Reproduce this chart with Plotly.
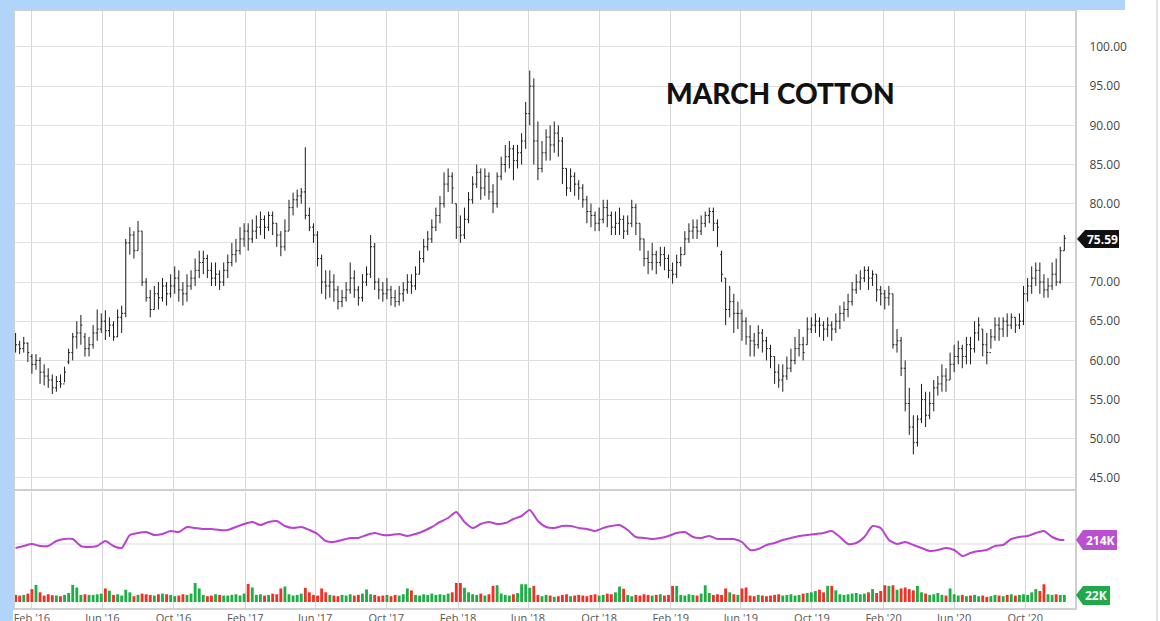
import pandas as pd
import plotly.graph_objects as go

# Weekly bars for March cotton, first week of Jan 2016 to early Dec 2020
opens_2016 = [62.8, 62.0, 61.5, 62.2, 60.5, 59.5, 60.0, 58.5, 58.0, 57.5, 56.5, 57.3, 57.0,
              59.8, 61.0, 63.0, 63.5, 63.0, 61.5, 62.0, 63.5, 64.0, 65.0, 63.8, 64.5, 63.0,
              65.5, 66.0, 75.0, 76.0, 74.0, 76.5, 70.0, 68.0, 66.5, 68.5, 68.0, 69.5, 68.5,
              69.5, 70.5, 69.0, 68.5, 69.5, 70.5, 71.5, 72.5, 73.0, 71.5, 70.5, 71.0, 70.0]
highs_2016 = [63.5, 62.5, 63.0, 62.3, 60.8, 60.8, 60.4, 59.5, 59.0, 58.2, 58.0, 58.2, 59.2,
              61.5, 63.5, 65.0, 65.8, 63.5, 63.0, 64.5, 66.5, 66.0, 66.4, 65.5, 65.0, 66.5,
              67.0, 75.5, 77.0, 76.5, 77.8, 76.5, 70.5, 69.0, 69.5, 70.0, 70.5, 70.0, 71.0,
              72.0, 71.5, 70.0, 71.0, 71.5, 73.0, 74.0, 74.0, 73.5, 72.5, 72.5, 71.5, 72.5]
lows_2016 = [61.0, 60.8, 61.0, 59.8, 58.3, 58.8, 57.0, 56.8, 56.5, 55.7, 56.0, 56.5, 57.2,
             59.5, 60.0, 61.5, 62.0, 60.5, 60.5, 61.5, 62.5, 63.5, 62.6, 63.0, 62.5, 63.0,
             63.5, 65.5, 73.5, 73.0, 74.0, 69.5, 67.5, 65.5, 66.5, 66.5, 67.5, 67.0, 68.0,
             68.5, 67.5, 67.0, 67.5, 69.0, 69.5, 70.5, 71.0, 70.5, 69.5, 69.5, 69.0, 69.5]
closes_2016 = [62.0, 61.5, 62.2, 61.0, 59.5, 60.0, 58.5, 58.0, 57.5, 56.5, 57.3, 57.0, 58.5,
               61.0, 63.0, 63.5, 64.5, 61.5, 62.0, 63.5, 64.0, 65.0, 63.8, 64.5, 63.0, 65.5,
               66.0, 75.0, 76.0, 74.0, 76.5, 70.0, 68.0, 66.5, 68.5, 68.0, 69.5, 68.5, 69.5,
               70.5, 69.0, 68.5, 69.5, 70.5, 71.5, 72.5, 73.0, 71.5, 70.5, 71.0, 70.0, 71.5]

opens_2017 = [71.5, 72.5, 73.5, 74.0, 75.5, 76.5, 75.5, 76.5, 77.0, 78.0, 77.0, 78.5,
              77.5, 76.0, 74.5, 76.5, 79.5, 80.5, 81.0, 81.5, 78.5, 77.0, 76.0, 73.0, 70.0,
              69.5, 70.0, 69.0, 67.5, 68.0, 69.0, 70.5, 69.0, 68.0, 70.0, 71.0, 74.5, 70.0,
              69.0, 68.5, 69.0, 68.0, 67.5, 68.5, 69.0, 70.0, 69.5, 71.0, 73.0, 74.5, 75.5, 77.0]
highs_2017 = [73.5, 75.0, 75.5, 77.0, 77.5, 77.5, 78.0, 78.5, 79.0, 78.5, 79.0, 79.0,
              77.5, 76.5, 78.0, 80.5, 81.4, 81.8, 82.0, 87.2, 79.5, 77.5, 76.5, 73.5, 71.5,
              71.5, 71.0, 69.5, 69.0, 70.0, 72.5, 71.5, 69.5, 71.0, 72.0, 76.0, 75.0, 70.5,
              70.0, 70.5, 69.5, 69.0, 69.5, 70.0, 71.0, 71.0, 72.0, 74.0, 75.5, 76.5, 78.0, 79.5]
lows_2017 = [70.5, 72.0, 72.5, 73.5, 74.5, 74.0, 75.0, 75.5, 76.0, 75.5, 76.5, 76.0,
             74.5, 73.3, 74.0, 76.5, 78.5, 79.5, 80.0, 78.0, 76.5, 75.0, 72.0, 68.5, 67.8,
             68.0, 67.5, 66.5, 66.8, 67.5, 68.5, 68.0, 67.0, 67.5, 69.5, 70.5, 69.0, 67.8,
             67.5, 67.8, 67.0, 66.8, 67.0, 67.5, 68.5, 68.5, 69.0, 71.0, 72.5, 74.0, 75.0, 76.5]
closes_2017 = [72.5, 73.5, 74.0, 75.5, 76.5, 75.5, 76.5, 77.0, 78.0, 77.0, 78.5, 77.5,
               76.0, 74.5, 76.5, 79.5, 80.5, 81.0, 81.5, 78.5, 77.0, 76.0, 73.0, 70.0, 69.5,
               70.0, 69.0, 67.5, 68.0, 69.0, 70.5, 69.0, 68.0, 70.0, 71.0, 74.5, 70.0, 69.0,
               68.5, 69.0, 68.0, 67.5, 68.5, 69.0, 70.0, 69.5, 71.0, 73.0, 74.5, 75.5, 77.0, 78.5]

opens_2018 = [78.5, 80.0, 82.5, 83.5, 80.0, 77.0, 76.0, 78.0, 80.5, 82.5, 84.0, 82.0,
              83.5, 81.5, 80.0, 83.5, 85.0, 86.0, 87.0, 85.5, 86.5, 88.0, 91.5, 95.0, 88.0,
              84.5, 86.5, 88.5, 87.5, 89.0, 88.0, 84.5, 82.0, 83.5, 82.5, 82.0, 80.5, 79.0,
              78.5, 77.5, 78.0, 79.5, 78.5, 77.0, 77.5, 78.0, 76.5, 77.5, 79.5, 77.5, 75.5, 73.0]
highs_2018 = [81.0, 84.0, 84.5, 84.0, 80.0, 78.5, 79.5, 81.5, 83.5, 85.0, 84.5, 84.5,
              84.0, 82.5, 84.0, 86.0, 87.5, 88.0, 87.5, 87.5, 89.0, 93.0, 97.0, 96.0, 90.5,
              88.0, 89.5, 90.0, 90.5, 90.0, 88.5, 84.5, 84.5, 84.0, 83.0, 82.5, 81.0, 80.0,
              79.0, 79.5, 80.5, 80.5, 79.0, 79.0, 79.5, 78.5, 78.5, 80.5, 80.0, 77.5, 75.5, 74.0]
lows_2018 = [77.5, 79.5, 81.5, 80.0, 75.5, 75.0, 75.5, 77.5, 80.0, 82.0, 80.5, 81.0,
             80.5, 78.8, 79.5, 83.0, 84.0, 84.5, 83.0, 84.5, 85.0, 87.0, 90.0, 85.0, 83.0,
             84.0, 85.5, 85.5, 86.5, 86.0, 82.5, 81.0, 81.5, 81.0, 80.5, 79.5, 77.5, 77.0,
             76.5, 76.5, 77.5, 77.0, 76.0, 76.0, 76.0, 75.5, 76.0, 77.0, 76.0, 74.0, 72.0, 71.0]
closes_2018 = [80.0, 82.5, 83.5, 82.0, 77.0, 76.0, 78.0, 80.5, 82.5, 84.0, 82.0, 83.5,
               81.5, 80.0, 83.5, 85.0, 86.0, 87.0, 85.5, 86.5, 88.0, 91.5, 95.0, 88.0, 84.5,
               86.5, 88.5, 87.5, 89.0, 88.0, 84.5, 82.0, 83.5, 82.5, 82.0, 80.5, 79.0, 78.5,
               77.5, 78.0, 79.5, 78.5, 77.0, 77.5, 78.0, 76.5, 77.5, 79.5, 77.5, 75.5, 73.0, 72.5]

opens_2019 = [72.5, 73.5, 72.5, 73.5, 73.0, 71.5, 71.0, 72.5, 73.5, 75.5, 76.5, 77.0,
              76.5, 77.5, 78.5, 79.0, 77.5, 73.5, 70.5, 66.5, 67.5, 66.0, 66.0, 65.0, 63.0,
              62.5, 62.0, 63.5, 62.5, 61.5, 60.5, 58.5, 57.5, 58.0, 59.0, 60.0, 61.5, 62.0,
              62.0, 64.0, 64.5, 65.0, 64.5, 64.0, 64.5, 64.0, 65.0, 66.0, 66.5, 67.5, 69.0, 70.0]
highs_2019 = [75.0, 74.0, 74.5, 74.5, 73.5, 72.5, 73.5, 74.5, 76.5, 77.5, 78.0, 78.0,
              78.5, 79.0, 79.5, 79.5, 78.0, 74.0, 70.5, 69.5, 68.5, 67.5, 66.5, 65.5, 64.5,
              63.5, 64.5, 64.0, 63.0, 62.0, 60.5, 59.5, 59.5, 60.5, 61.5, 63.0, 64.0, 63.0,
              65.5, 65.5, 66.0, 65.5, 65.0, 65.5, 65.0, 66.0, 67.0, 67.5, 68.5, 70.0, 71.0, 71.5]
lows_2019 = [71.5, 71.0, 72.0, 71.5, 70.5, 69.8, 70.5, 72.0, 73.5, 75.0, 75.5, 75.5,
             76.0, 77.0, 77.5, 76.5, 74.5, 70.0, 64.5, 65.5, 63.5, 64.0, 62.5, 62.0, 60.5,
             60.5, 61.5, 61.0, 60.0, 59.0, 57.0, 56.5, 56.0, 57.5, 58.5, 59.5, 60.5, 60.0,
             62.0, 63.5, 63.5, 63.0, 62.5, 63.0, 62.5, 63.5, 64.0, 65.0, 65.5, 67.0, 68.5, 69.0]
closes_2019 = [73.5, 72.5, 73.5, 73.0, 71.5, 71.0, 72.5, 73.5, 75.5, 76.5, 77.0, 76.5,
               77.5, 78.5, 79.0, 77.5, 77.0, 71.0, 66.5, 67.5, 66.0, 66.0, 65.0, 63.0, 62.5,
               62.0, 63.5, 62.5, 61.5, 60.5, 58.5, 57.5, 58.0, 59.0, 60.0, 61.5, 62.0, 61.0,
               64.0, 64.5, 65.0, 64.5, 64.0, 64.5, 64.0, 65.0, 66.0, 66.5, 67.5, 69.0, 70.0, 70.5]

opens_2020 = [70.5, 71.5, 70.5, 71.0, 69.0, 68.5, 68.0, 68.5, 62.0, 62.5, 59.0, 54.5,
              51.5, 49.5, 52.5, 55.0, 53.0, 54.5, 56.5, 57.0, 58.0, 57.5, 59.5, 60.5, 61.5,
              60.5, 62.0, 61.5, 63.5, 64.0, 62.0, 61.0, 63.0, 64.5, 64.0, 65.0, 64.5, 65.5,
              64.5, 65.0, 68.5, 69.5, 70.5, 71.5, 70.0, 69.0, 69.5, 71.0, 70.0, 74.0]
highs_2020 = [72.0, 72.0, 71.5, 71.0, 69.5, 69.0, 69.5, 68.5, 64.0, 63.0, 60.0, 56.5,
              53.0, 53.0, 57.0, 56.0, 56.0, 57.5, 58.0, 59.5, 59.0, 61.0, 62.0, 62.5, 62.0,
              63.0, 63.0, 65.0, 65.5, 64.0, 63.5, 64.0, 65.5, 65.5, 65.5, 66.0, 66.0, 65.5,
              66.0, 69.5, 70.5, 72.0, 72.5, 72.5, 71.0, 70.5, 72.5, 73.0, 74.5, 76.0]
lows_2020 = [70.0, 69.0, 69.5, 67.5, 67.0, 66.5, 67.0, 61.5, 61.0, 58.0, 53.5, 50.5,
             48.0, 49.0, 52.0, 51.5, 52.5, 53.5, 55.5, 56.0, 56.0, 57.5, 58.5, 59.5, 59.0,
             59.5, 59.5, 61.0, 62.5, 60.5, 59.5, 61.5, 62.5, 62.5, 63.0, 63.0, 64.0, 63.5,
             64.0, 64.5, 67.5, 68.5, 69.5, 68.5, 68.0, 68.0, 69.0, 69.5, 69.8, 74.0]
closes_2020 = [71.5, 70.5, 71.0, 69.0, 68.5, 68.0, 68.5, 62.0, 62.5, 59.0, 54.5, 51.5,
               49.5, 52.5, 55.0, 53.0, 54.5, 56.5, 57.0, 58.0, 57.5, 59.5, 60.5, 61.5, 60.5,
               62.0, 61.5, 63.5, 64.5, 62.0, 61.0, 63.0, 64.5, 64.0, 65.0, 64.5, 65.5, 64.5,
               65.0, 68.5, 69.5, 70.5, 71.5, 70.0, 69.0, 69.5, 71.0, 70.0, 74.0, 75.59]

# weekly volume (thousands)
volume_2016 = [22, 20, 22, 26, 40, 53, 30, 20, 24, 21, 20, 18, 22, 28, 53, 45, 22, 24, 22, 22,
               24, 26, 42, 35, 22, 24, 20, 38, 30, 18, 22, 26, 24, 22, 20, 24, 26, 24, 22, 18,
               20, 24, 22, 26, 59, 42, 22, 18, 20, 24, 22, 20]
volume_2017 = [20, 22, 24, 20, 26, 56, 45, 22, 24, 20, 22, 26, 24, 42, 48, 24, 20, 22, 26, 44,
               30, 22, 20, 42, 30, 22, 20, 18, 22, 20, 24, 20, 22, 26, 39, 24, 22, 18, 20, 22,
               18, 22, 20, 24, 42, 36, 22, 20, 24, 22, 26, 22]
volume_2018 = [24, 22, 26, 30, 59, 59, 44, 30, 24, 22, 26, 20, 24, 50, 52, 26, 22, 20, 24, 28,
               55, 55, 44, 50, 22, 18, 22, 20, 16, 18, 22, 24, 18, 20, 22, 20, 18, 22, 24, 20,
               22, 26, 24, 30, 48, 41, 22, 18, 22, 20, 24, 22]
volume_2019 = [20, 22, 24, 20, 22, 50, 50, 22, 20, 24, 22, 20, 26, 52, 28, 22, 24, 22, 42, 30,
               24, 22, 42, 45, 20, 18, 22, 20, 18, 20, 22, 24, 20, 22, 24, 20, 22, 26, 28, 30,
               34, 38, 30, 50, 50, 36, 24, 22, 24, 26, 28, 24]
volume_2020 = [26, 30, 40, 28, 34, 52, 50, 52, 38, 42, 45, 40, 36, 50, 30, 26, 22, 24, 28, 22,
               20, 42, 24, 20, 22, 18, 20, 22, 18, 20, 16, 18, 22, 20, 18, 22, 24, 20, 22, 24,
               22, 30, 40, 34, 55, 24, 22, 24, 22, 22]

# open interest (thousands), every second week plus the last week
open_interest = [198, 202, 206, 202, 202, 212, 216, 216, 202, 200,
                 202, 212, 202, 198, 224, 228, 230, 224, 226, 232,
                 230, 240, 238, 236, 236, 234, 234, 240, 246, 250,
                 244, 250, 252, 242, 238, 240, 234, 226, 212, 210,
                 214, 218, 218, 224, 228, 224, 224, 226, 222, 226,
                 232, 240, 250, 258, 270, 250, 238, 246, 250, 246,
                 248, 256, 262, 274, 252, 240, 238, 242, 242, 238,
                 236, 232, 238, 242, 244, 234, 220, 218, 216, 218,
                 222, 228, 230, 220, 218, 222, 216, 216, 216, 210,
                 194, 196, 204, 208, 214, 218, 222, 224, 226, 228,
                 232, 220, 206, 208, 220, 242, 238, 214, 206, 210,
                 204, 198, 192, 194, 198, 194, 182, 188, 192, 194,
                 202, 204, 216, 220, 222, 228, 232, 220, 214, 214]

price_ticks = [45, 50, 55, 60, 65, 70, 75, 80, 85, 90, 95, 100]

opens = opens_2016 + opens_2017 + opens_2018 + opens_2019 + opens_2020
highs = highs_2016 + highs_2017 + highs_2018 + highs_2019 + highs_2020
lows = lows_2016 + lows_2017 + lows_2018 + lows_2019 + lows_2020
closes = closes_2016 + closes_2017 + closes_2018 + closes_2019 + closes_2020
volume = volume_2016 + volume_2017 + volume_2018 + volume_2019 + volume_2020

dates = pd.date_range('2016-01-04', periods=len(closes), freq='W-MON')
oi_dates = list(dates[::2]) + [dates[-1]]
vol_colors = ['#1fae45' if c >= o else '#ef3226' for o, c in zip(opens, closes)]
# the 75 label sits under the last-price tag
price_ticktext = ['' if v == 75 else f'{v:.2f}' for v in price_ticks]


# pixel -> paper helpers (plot area spans x 15..1076, y 10..610)
def px(x):
    return (x - 15) / 1061


def py(y):
    return (610 - y) / 600


fig = go.Figure()

fig.add_trace(go.Ohlc(
    x=dates, open=opens, high=highs, low=lows, close=closes,
    increasing_line_color='#1a1a1a', decreasing_line_color='#1a1a1a',
    line_width=1, tickwidth=0.35, xaxis='x', yaxis='y',
    showlegend=False, hoverinfo='skip'
))
fig.add_trace(go.Bar(
    x=dates, y=volume, marker_color=vol_colors, marker_line_width=0,
    xaxis='x', yaxis='y2', showlegend=False, hoverinfo='skip'
))
fig.add_trace(go.Scatter(
    x=oi_dates, y=open_interest, mode='lines',
    line=dict(color='#b843cf', width=2, shape='spline', smoothing=0.6),
    xaxis='x', yaxis='y3', showlegend=False, hoverinfo='skip'
))

grey = '#cfcfcf'
P = dict(xref='paper', yref='paper')
shapes = [
    # page chrome
    dict(type='rect', x0=px(0), x1=px(13), y0=py(0), y1=py(621),
         fillcolor='#b1d5fa', line_width=0, layer='above', **P),
    dict(type='rect', x0=px(0), x1=px(1125), y0=py(0), y1=py(10),
         fillcolor='#b1d5fa', line_width=0, layer='above', **P),
    dict(type='line', x0=px(1157), x1=px(1157), y0=py(0), y1=py(621),
         line=dict(color='#e4e4e4', width=2), **P),
    # panel borders
    dict(type='line', x0=px(14), x1=px(1076), y0=py(10), y1=py(10), line=dict(color=grey, width=2), **P),
    dict(type='line', x0=px(14), x1=px(14), y0=py(10), y1=py(610), line=dict(color=grey, width=2), **P),
    dict(type='line', x0=px(1076), x1=px(1076), y0=py(10), y1=py(610), line=dict(color=grey, width=2), **P),
    dict(type='line', x0=px(14), x1=px(1076), y0=py(490), y1=py(490), line=dict(color=grey, width=2), **P),
    dict(type='line', x0=px(14), x1=px(1076), y0=py(609), y1=py(609), line=dict(color=grey, width=2), **P),
    dict(type='line', x0=px(14), x1=px(1076), y0=py(544), y1=py(544), line=dict(color='#dcdcdc', width=1),
         layer='below', **P),
    # last value tags
    dict(type='path', path=f'M {px(1077)} {py(239)} L {px(1085)} {py(230)} L {px(1119)} {py(230)} '
                           f'L {px(1119)} {py(248)} L {px(1085)} {py(248)} Z',
         fillcolor='#111111', line_width=0, **P),
    dict(type='path', path=f'M {px(1076)} {py(540)} L {px(1083)} {py(530)} L {px(1117)} {py(530)} '
                           f'L {px(1117)} {py(550)} L {px(1083)} {py(550)} Z',
         fillcolor='#ba4fcf', line_width=0, **P),
    dict(type='path', path=f'M {px(1076)} {py(595)} L {px(1083)} {py(586)} L {px(1110)} {py(586)} '
                           f'L {px(1110)} {py(605)} L {px(1083)} {py(605)} Z',
         fillcolor='#1fa94a', line_width=0, **P),
]

tag_font = dict(family='Open Sans', size=12, color='white', weight='bold')
annotations = [
    dict(text='MARCH COTTON', x=px(780), y=py(93), xanchor='center', yanchor='middle',
         showarrow=False, font=dict(family='Lato', size=28, color='#111', weight=900), **P),
    dict(text='75.59', x=px(1102), y=py(239), xanchor='center', yanchor='middle',
         showarrow=False, font=tag_font, **P),
    dict(text='214K', x=px(1100), y=py(540), xanchor='center', yanchor='middle',
         showarrow=False, font=tag_font, **P),
    dict(text='22K', x=px(1096), y=py(595), xanchor='center', yanchor='middle',
         showarrow=False, font=tag_font, **P),
]

fig.update_layout(
    width=1160, height=621,
    margin=dict(l=15, r=84, t=10, b=11, autoexpand=False),
    paper_bgcolor='white', plot_bgcolor='white',
    bargap=0.3,
    xaxis=dict(
        domain=[0, 1], anchor='y2', type='date', automargin=False,
        range=['2016-01-03', '2020-12-27'],
        tick0='2016-02-01', dtick='M4', tickformat="%b '%y",
        showgrid=True, gridcolor='#d6d6d6', gridwidth=1,
        zeroline=False, showline=False, ticks='',
        tickfont=dict(family='Open Sans', size=11, color='#555'),
        rangeslider=dict(visible=False)
    ),
    yaxis=dict(
        domain=[py(490), 1], range=[43.46, 104.72], side='right', automargin=False,
        tickvals=price_ticks, ticktext=price_ticktext,
        showgrid=True, gridcolor='#e0e0e0', gridwidth=1,
        zeroline=False, showline=False,
        ticks='outside', ticklen=10, tickcolor='rgba(0,0,0,0)',
        tickfont=dict(family='Open Sans', size=12, color='#444')
    ),
    yaxis2=dict(
        domain=[0, py(492)], range=[-24.8, 341], automargin=False,
        showgrid=False, zeroline=False, showticklabels=False
    ),
    yaxis3=dict(
        overlaying='y2', range=[74, 310], side='right', automargin=False,
        showgrid=False, zeroline=False, showticklabels=False
    ),
    shapes=shapes,
    annotations=annotations,
)

fig.write_html(
    "out.html",
    config={'displayModeBar': False},
    post_script="document.body.style.margin='0px';document.body.style.overflow='hidden';"
)
